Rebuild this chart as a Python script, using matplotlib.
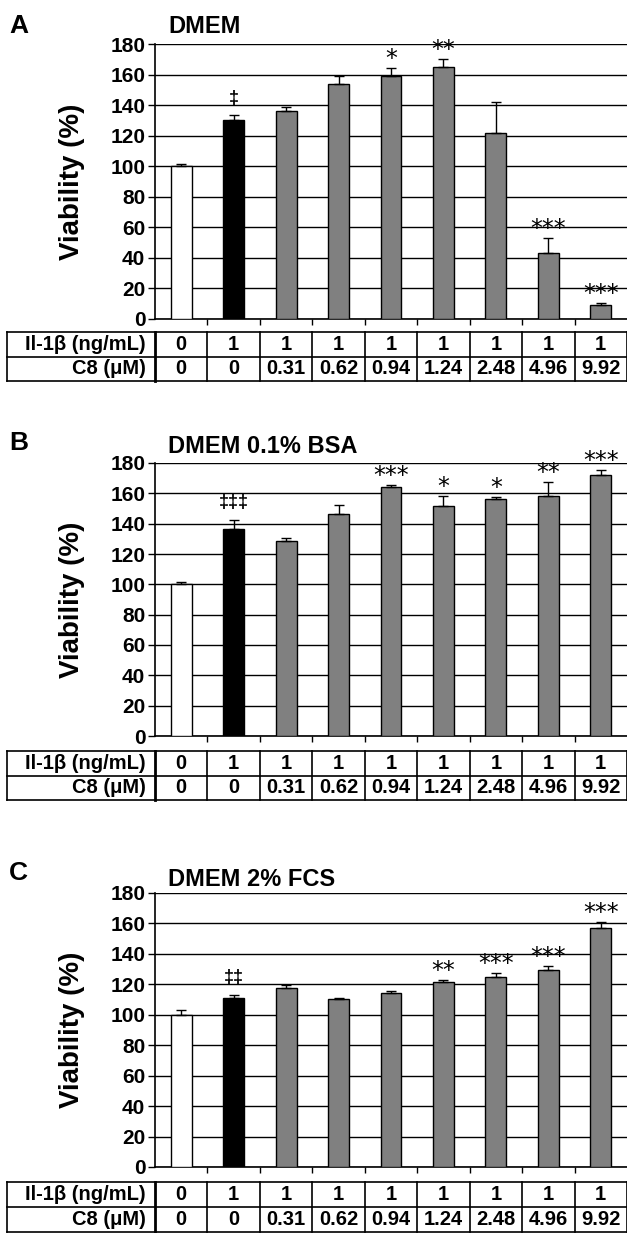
import numpy as np
import matplotlib.pyplot as plt

plt.rcParams['font.family'] = ['Liberation Sans', 'DejaVu Sans']
plt.rcParams['font.weight'] = 'bold'

# data
titles = ["DMEM", "DMEM 0.1% BSA", "DMEM 2% FCS"]
letters = ["A", "B", "C"]
il1b = ["0", "1", "1", "1", "1", "1", "1", "1", "1"]
c8 = ["0", "0", "0.31", "0.62", "0.94", "1.24", "2.48", "4.96", "9.92"]

viab_a = [100, 130, 136, 154, 159, 165, 122, 43, 9.4]
err_a = [1.3, 3.5, 2.5, 4.8, 5.5, 5.2, 20, 10, 0.9]
marks_a = ["", "‡", "", "", "*", "**", "", "***", "***"]

viab_b = [100, 136.7, 128.6, 146.7, 164.5, 151.7, 156, 158, 171.8]
err_b = [1.5, 6, 2, 5.5, 1.1, 6.7, 1.5, 9.4, 3.5]
marks_b = ["", "‡‡‡", "", "", "***", "*", "*", "**", "***"]

viab_c = [100, 111, 117.4, 110.1, 114, 121.5, 125, 129.3, 157.2]
err_c = [2.9, 2, 2.2, 0.9, 1.6, 1.4, 2.7, 2.8, 4]
marks_c = ["", "‡‡", "", "", "", "**", "***", "***", "***"]

bar_colors = ["white", "black"] + ["#808080"] * 7

W, H = 627, 1233
fig = plt.figure(figsize=(W / 100, H / 100), dpi=100)


def rect(x0, y0, x1, y1):
    # pixel box (top-left origin) -> figure fraction
    return [x0 / W, 1 - y1 / H, (x1 - x0) / W, (y1 - y0) / H]


# top of plot, zero line, table top, table bottom, title baseline, letter baseline
layout = [
    (44, 319, 332, 381, 33, 33),
    (463, 736, 751, 800, 453, 450),
    (893, 1167, 1182, 1232, 886, 880),
]
panels = [(viab_a, err_a, marks_a), (viab_b, err_b, marks_b), (viab_c, err_c, marks_c)]

x0_ax, x1_ax = 155, 627
cat_w = (x1_ax - x0_ax) / 9
lab_w = (x0_ax - 7) / cat_w

for (vals, errs, marks), (top, zero, t0, t1, tb, lb), title, letter in zip(
        panels, layout, titles, letters):
    ax = fig.add_axes(rect(x0_ax, top, x1_ax, zero))
    x = np.arange(len(vals))
    ax.bar(x, vals, width=0.4, color=bar_colors, edgecolor="black",
           linewidth=1.0, zorder=3)
    ax.errorbar(x, vals, yerr=[np.zeros(len(errs)), errs], fmt="none",
                ecolor="black", elinewidth=1.0, capsize=3.5, capthick=1.0,
                zorder=4)
    for i, m in enumerate(marks):
        if not m:
            continue
        if "*" in m:
            ax.annotate(m, (i, vals[i] + errs[i]), xytext=(0, 1.5),
                        textcoords="offset points", ha="center", va="baseline",
                        fontsize=17, fontweight="normal", family="DejaVu Sans",
                        annotation_clip=False)
        else:
            ax.annotate(m, (i, vals[i] + errs[i]), xytext=(0, 9),
                        textcoords="offset points", ha="center", va="baseline",
                        fontsize=13, fontweight="bold",
                        annotation_clip=False)
    ax.set_xlim(-0.5, 8.5)
    ax.set_ylim(0, 180)
    ax.set_yticks(np.arange(0, 181, 20))
    ax.set_xticks(np.arange(0.5, 8, 1))
    ax.set_xticklabels([])
    ax.yaxis.grid(True, color="black", linewidth=1.0)
    ax.set_axisbelow(True)
    for s in ["top", "right"]:
        ax.spines[s].set_visible(False)
    for s in ["left", "bottom"]:
        ax.spines[s].set_linewidth(1.2)
    ax.tick_params(axis="y", direction="out", length=5, width=1.0,
                   labelsize=15, pad=2)
    ax.tick_params(axis="x", direction="out", length=4, width=1.0)

    fig.text(72 / W, 1 - (top + zero) / 2 / H, "Viability (%)", rotation=90,
             ha="center", va="center", fontsize=20)
    fig.text(168 / W, 1 - tb / H, title, ha="left", va="baseline", fontsize=17)
    fig.text(9 / W, 1 - lb / H, letter, ha="left", va="baseline", fontsize=19)

    # table below the bars
    tx = fig.add_axes(rect(7, t0, 627, t1))
    tx.set_xlim(-0.5 - lab_w, 8.5)
    tx.set_ylim(2, 0)
    tx.axis("off")
    left = -0.5 - lab_w
    for yy in [0, 1, 2]:
        tx.plot([left, 8.5], [yy, yy], color="black", lw=1.2, clip_on=False)
    tx.plot([left, left], [0, 2], color="black", lw=1.2, clip_on=False)
    tx.plot([-0.5, -0.5], [0, 2], color="black", lw=2.0, clip_on=False)
    for xx in np.arange(0.5, 9, 1):
        tx.plot([xx, xx], [0, 2], color="black", lw=1.2, clip_on=False)
    tx.text(-0.68, 0.5, "Il-1β (ng/mL)", ha="right", va="center", fontsize=14.5)
    tx.text(-0.68, 1.5, "C8 (μM)", ha="right", va="center", fontsize=14.5)
    for i in range(9):
        tx.text(i, 0.5, il1b[i], ha="center", va="center", fontsize=14.5)
        tx.text(i, 1.5, c8[i], ha="center", va="center", fontsize=14.5)

fig.savefig("out.png", dpi=100)
